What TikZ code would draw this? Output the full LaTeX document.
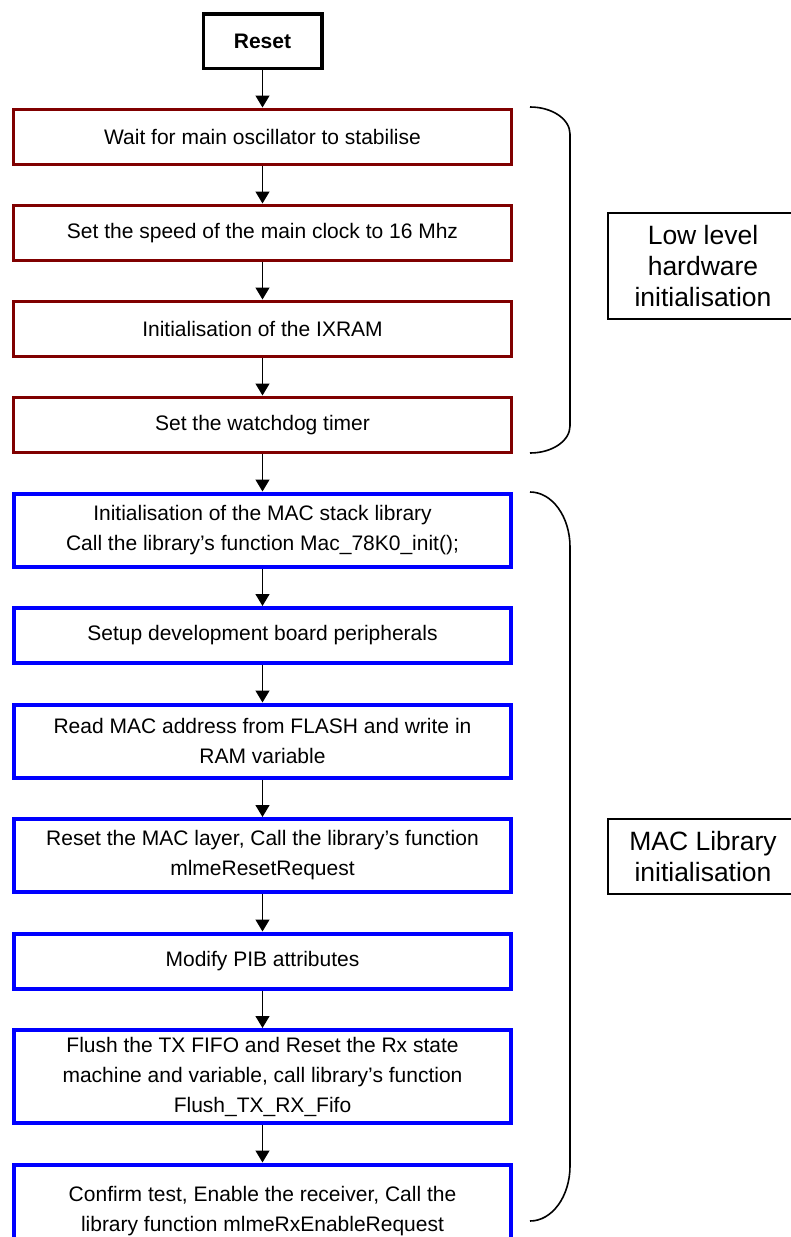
\documentclass[tikz,border=0pt]{standalone}
\usepackage{fontspec}
\setmainfont{Liberation Sans}
\usetikzlibrary{arrows.meta,positioning}
\definecolor{hwred}{RGB}{128,0,0}
\definecolor{macblue}{RGB}{0,0,255}

\begin{document}
\begin{tikzpicture}[
  x=1pt, y=1pt,
  node distance=37.5pt,
  hwbox/.style={draw=hwred, line width=3pt, minimum width=498pt, minimum height=55.5pt, inner sep=0pt, align=center, font=\fontsize{21}{30}\selectfont},
  macbox/.style={draw=macblue, line width=4pt, minimum width=497pt, minimum height=#1, inner sep=0pt, align=center, font=\fontsize{21}{30}\selectfont},
  labelbox/.style={draw, line width=1.6pt, minimum width=190pt, minimum height=#1, inner sep=0pt, align=center, font=\fontsize{26.5}{31}\selectfont},
  arr/.style={-{Triangle[length=12pt,width=14pt]}, line width=1.3pt},
  brace/.style={line width=1.6pt},
]
  \useasboundingbox (0,0) rectangle (790,-1237);

  \node[draw, line width=3.5pt, minimum width=118.5pt, minimum height=54.5pt, font=\fontsize{21}{30}\selectfont\bfseries] (reset) at (262.5,-41) {Reset};

  % low level hardware part
  \node[hwbox, below=of reset] (osc) {Wait for main oscillator to stabilise};
  \node[hwbox, below=of osc] (clock) {Set the speed of the main clock to 16 Mhz};
  \node[hwbox, below=of clock] (ixram) {Initialisation of the IXRAM};
  \node[hwbox, below=of ixram] (wdt) {Set the watchdog timer};

  % MAC library part
  \node[macbox=73pt, below=of wdt] (macinit) {Initialisation of the MAC stack library\\Call the library’s function Mac\_78K0\_init();};
  \node[macbox=55pt, below=of macinit] (board) {Setup development board peripherals};
  \node[macbox=73pt, below=of board] (readmac) {Read MAC address from FLASH and write in\\RAM variable};
  \node[macbox=73pt, below=of readmac] (macreset) {Reset the MAC layer, Call the library’s function\\mlmeResetRequest};
  \node[macbox=55pt, below=of macreset] (pib) {Modify PIB attributes};
  \node[macbox=93pt, below=of pib] (flush) {Flush the TX FIFO and Reset the Rx state\\machine and variable, call library’s function\\Flush\_TX\_RX\_Fifo};
  \node[macbox=93pt, below=of flush] (rxenable) {Confirm test, Enable the receiver, Call the\\library function mlmeRxEnableRequest};

  \draw[arr] (reset) -- (osc);
  \draw[arr] (osc) -- (clock);
  \draw[arr] (clock) -- (ixram);
  \draw[arr] (ixram) -- (wdt);
  \draw[arr] (wdt) -- (macinit);
  \draw[arr] (macinit) -- (board);
  \draw[arr] (board) -- (readmac);
  \draw[arr] (readmac) -- (macreset);
  \draw[arr] (macreset) -- (pib);
  \draw[arr] (pib) -- (flush);
  \draw[arr] (flush) -- (rxenable);

  % brackets
  \draw[brace] (530,-107) arc[start angle=90, end angle=0, x radius=40, y radius=27]
    -- (570,-426) arc[start angle=0, end angle=-90, x radius=40, y radius=27];
  \draw[brace] (530,-492) arc[start angle=90, end angle=0, x radius=40, y radius=55]
    -- (570,-1166) arc[start angle=0, end angle=-90, x radius=40, y radius=55];

  \node[labelbox=106pt] (hwlabel) at (703,-266) {Low level\\hardware\\initialisation};
  \node[labelbox=75pt] (maclabel) at (703,-856.5) {MAC Library\\initialisation};
\end{tikzpicture}
\end{document}
